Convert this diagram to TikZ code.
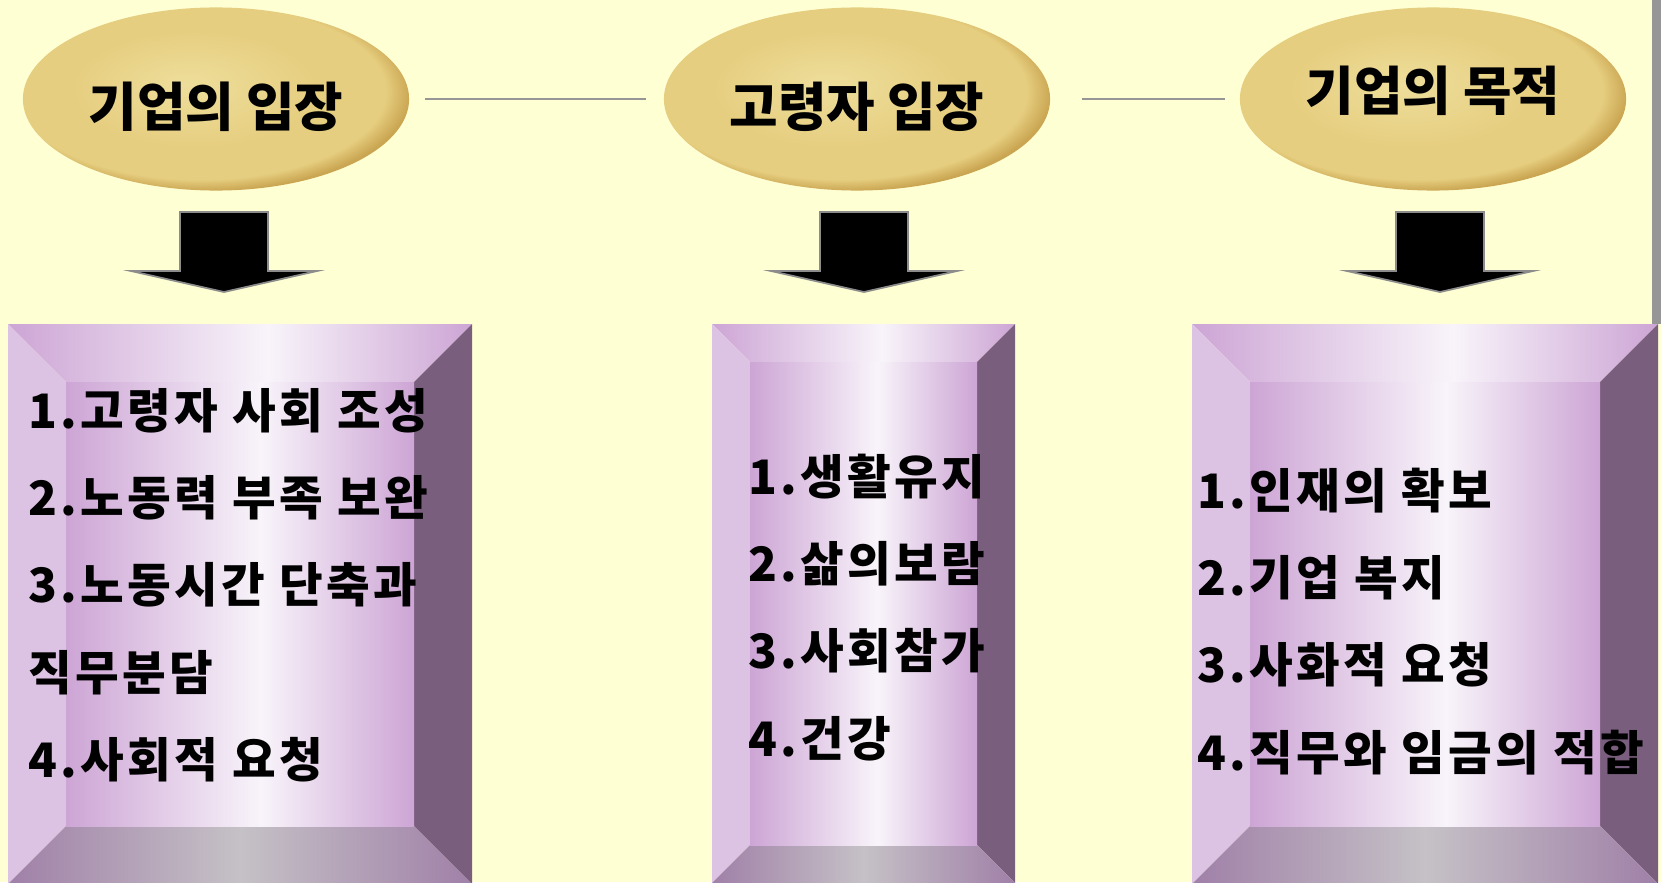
\documentclass[tikz,border=0pt]{standalone}
\usepackage{fontspec}
\newfontfamily\kr{Noto Sans CJK KR}
\newfontfamily\krwide{Noto Sans CJK KR}[LetterSpace=7]
\usetikzlibrary{shapes.geometric,positioning}

\definecolor{pagecream}{RGB}{255,255,212}
\definecolor{stripgrey}{RGB}{150,150,150}
\definecolor{goldpale}{RGB}{238,222,155}
\definecolor{goldmid}{RGB}{230,206,128}
\definecolor{golddeep}{RGB}{202,166,82}
\definecolor{linkgrey}{RGB}{150,150,150}
\definecolor{arrowgrey}{RGB}{140,140,140}
\definecolor{lilacdeep}{RGB}{205,165,213}
\definecolor{lilacpale}{RGB}{248,244,250}
\definecolor{lilacside}{RGB}{221,195,227}
\definecolor{plumside}{RGB}{122,94,126}
\definecolor{plumbase}{RGB}{160,128,168}
\definecolor{greybase}{RGB}{197,193,198}

\pgfdeclarehorizontalshading{lilacface}{100bp}{color(0bp)=(lilacdeep); color(25bp)=(lilacdeep); color(53bp)=(lilacpale); color(75bp)=(lilacdeep); color(100bp)=(lilacdeep)}
\pgfdeclarehorizontalshading{lilacbase}{100bp}{color(0bp)=(plumbase); color(25bp)=(plumbase); color(50bp)=(greybase); color(75bp)=(plumbase); color(100bp)=(plumbase)}
\pgfdeclareradialshading{goldglow}{\pgfpoint{-4bp}{4bp}}{color(0bp)=(goldpale); color(16bp)=(goldmid); color(24bp)=(goldmid); color(27bp)=(golddeep); color(50bp)=(golddeep)}

% bevelled frame: x1, y1, x2, y2, bevel
\newcommand\lilacframe[5]{%
  \shade[shading=lilacface] (#1,#2) -- (#3,#2) -- (#3-#5,#2+#5) -- (#1+#5,#2+#5) -- cycle;
  \fill[lilacside] (#1,#2) -- (#1+#5,#2+#5) -- (#1+#5,#4-#5) -- (#1,#4) -- cycle;
  \fill[plumside] (#3,#2) -- (#3,#4) -- (#3-#5,#4-#5) -- (#3-#5,#2+#5) -- cycle;
  \shade[shading=lilacbase] (#1,#4) -- (#1+#5,#4-#5) -- (#3-#5,#4-#5) -- (#3,#4) -- cycle;
  \shade[shading=lilacface] (#1+#5,#2+#5) rectangle (#3-#5,#4-#5);}

\tikzset{
  title/.style={ellipse, shading=goldglow, minimum width=3.86cm, minimum height=1.83cm,
    inner sep=0pt, font=\kr\bfseries\fontsize{15}{18}\selectfont,
    text height=0.59cm, text depth=0.05cm},
  link/.style={draw=linkgrey, line width=0.6pt},
  item/.style={inner sep=0pt, font=\krwide\bfseries\fontsize{13.5}{16}\selectfont,
    text height=0.36cm, text depth=0.10cm},
  downblock/.pic={\draw[draw=arrowgrey, fill=black, line width=0.5pt]
    (-44,0) -- (44,0) -- (44,59) -- (93,59) -- (0,80) -- (-93,59) -- (-44,59) -- cycle;}
}

\begin{document}
\begin{tikzpicture}[x=0.01cm, y=-0.01cm]
\useasboundingbox (0,0) rectangle (1661,882);
\clip (0,0) rectangle (1661,882);
\fill[pagecream] (0,0) rectangle (1661,882);
\fill[stripgrey] (1652,0) rectangle (1661,324);

% three headings
\node[title] (firm) at (216,99) {기업의 입장};
\node[title] (elder) at (857,99) {고령자 입장};
\node[title, text height=0.42cm, text depth=0.19cm] (goal) at (1433,99) {기업의 목적};
\draw[link, shorten <=0.15cm, shorten >=0.17cm] (firm.east) -- (elder.west);
\draw[link, shorten <=0.31cm, shorten >=0.14cm] (elder.east) -- (goal.west);

\pic at (224,212) {downblock};
\pic at (864,212) {downblock};
\pic at (1440,212) {downblock};

% frames
\lilacframe{8}{324}{472}{884}{58}
\lilacframe{712}{324}{1015}{883}{38}
\lilacframe{1192}{324}{1658}{884}{58}

\begin{scope}[node distance=4mm]
\node[item, anchor=base west] (f1) at (28,428) {1.고령자 사회 조성};
\node[item, below=of f1.south west, anchor=north west] (f2) {2.노동력 부족 보완};
\node[item, below=of f2.south west, anchor=north west] (f3) {3.노동시간 단축과};
\node[item, below=of f3.south west, anchor=north west] (f4) {직무분담};
\node[item, below=of f4.south west, anchor=north west] (f5) {4.사회적 요청};

\node[item, anchor=base west] (e1) at (748,494) {1.생활유지};
\node[item, below=of e1.south west, anchor=north west] (e2) {2.삶의보람};
\node[item, below=of e2.south west, anchor=north west] (e3) {3.사회참가};
\node[item, below=of e3.south west, anchor=north west] (e4) {4.건강};

\node[item, anchor=base west] (g1) at (1197,508) {1.인재의 확보};
\node[item, below=of g1.south west, anchor=north west] (g2) {2.기업 복지};
\node[item, below=of g2.south west, anchor=north west] (g3) {3.사화적 요청};
\node[item, below=of g3.south west, anchor=north west] (g4) {4.직무와 임금의 적합};
\end{scope}
\end{tikzpicture}
\end{document}
